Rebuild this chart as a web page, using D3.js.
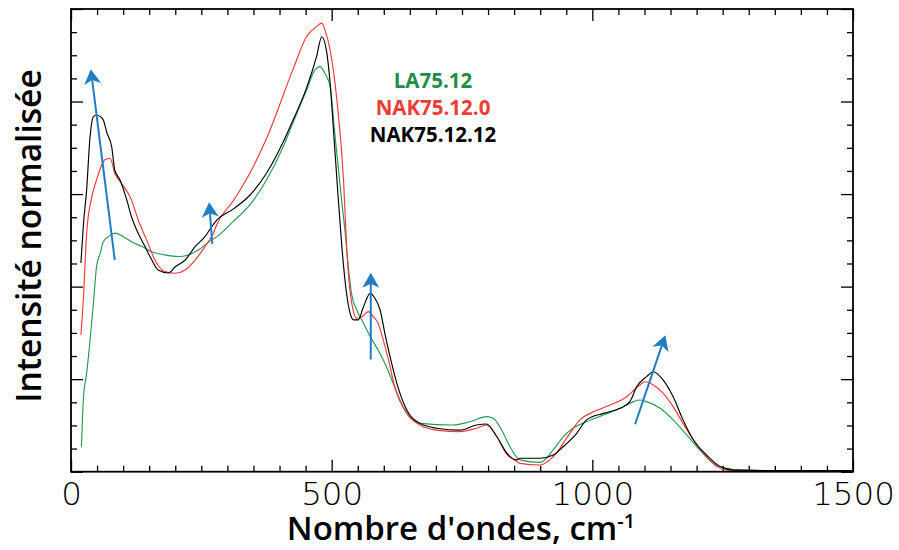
<!DOCTYPE html>
<html>
<head>
<meta charset="utf-8">
<script src="https://cdn.jsdelivr.net/npm/d3@7"></script>
<style>
  html, body { margin: 0; padding: 0; background: #fff; }
  svg { display: block; }
</style>
</head>
<body>
<svg id="chart" width="899" height="550"></svg>
<script>
// ---------- DATA ----------
const seriesNames = ["LA75.12", "NAK75.12.0", "NAK75.12.12"];

// LA75.12 (green)
const la_x = [20,24,30,36,43,49,56,62,72,84,100,116,136,155,180,206,225,244,270,280,311,343,375,407,426,452,468,478,487,497,506,519,526,532,538,548,561,574,589,605,618,637,669,733,765,797,810,826,842,861,900,925,944,963,989,1021,1053,1079,1091,1104,1130,1155,1181,1206,1232,1258,1283,1350,1420,1500];
const la_y = [1.08,3.24,4.25,5.55,7.28,8.86,9.44,9.94,10.16,10.31,10.16,9.94,9.73,9.51,9.37,9.30,9.37,9.58,10.02,10.16,10.81,11.53,12.61,14.05,15.10,16.50,17.37,17.51,17.22,16.65,14.63,11.75,10.31,8.86,7.71,6.99,6.42,5.84,5.26,4.54,3.82,2.81,2.09,2.02,2.16,2.38,2.31,1.80,1.08,0.51,0.40,0.94,1.51,1.88,2.16,2.45,2.74,3.03,3.10,3.03,2.74,2.24,1.59,0.94,0.36,0.15,0.07,0.05,0.05,0.05];

// NAK75.12.0 (red)
const nak0_x = [19,24,30,40,49,59,65,75,84,97,116,129,145,161,180,200,219,238,257,273,280,311,343,375,426,452,471,481,487,497,510,523,529,533,540,548,558,570,580,589,599,609,621,644,669,701,746,778,797,817,836,855,861,900,925,957,976,1002,1034,1066,1091,1101,1117,1136,1155,1174,1194,1219,1239,1258,1350,1420,1500];
const nak0_y = [5.91,7.57,10.31,11.89,12.61,13.26,13.48,13.55,12.90,12.47,11.75,10.88,10.02,9.15,8.65,8.58,8.72,9.15,9.73,10.31,10.70,11.70,12.90,14.40,17.40,18.81,19.24,19.39,19.10,18.23,16.07,12.50,9.60,8.30,7.10,6.63,6.70,6.92,6.70,6.42,5.69,4.83,3.67,2.52,2.02,1.80,1.73,1.88,2.02,1.50,0.75,0.45,0.36,0.29,0.65,1.66,2.24,2.59,2.88,3.24,3.75,3.89,3.75,3.39,2.81,2.09,1.37,0.65,0.22,0.07,0.05,0.05,0.05];

// NAK75.12.12 (black)
const nak12_x = [19,24,30,36,43,49,56,62,69,78,84,94,107,116,126,142,155,167,187,200,219,238,257,270,280,311,343,375,407,426,452,471,481,490,497,504,512,520,528,536,542,551,561,574,583,593,602,612,625,644,669,701,746,778,797,817,836,855,861,900,925,944,970,989,1021,1053,1072,1085,1104,1117,1136,1155,1174,1194,1219,1245,1270,1350,1420,1500];
const nak12_y = [9.02,10.74,12.18,14.33,15.35,15.42,15.35,15.20,14.64,14.05,13.04,12.61,11.75,11.02,10.45,9.73,9.15,8.72,8.59,8.86,9.15,9.73,10.16,10.59,10.88,11.35,11.95,12.90,14.25,15.20,16.60,17.94,18.80,18.20,16.80,14.60,12.00,9.60,7.80,6.80,6.56,6.56,7.13,7.71,7.50,6.99,5.98,4.97,3.82,2.67,2.09,1.88,1.80,2.02,2.06,1.51,0.80,0.51,0.58,0.58,0.72,1.08,1.66,2.24,2.52,2.74,3.03,3.67,4.11,4.32,3.96,3.24,2.24,1.37,0.72,0.22,0.07,0.05,0.05,0.05];

// Annotation arrows (data units): [x0, y0, x1 (tip), y1 (tip)]
const arrows = [
  [84, 9.15, 38, 17.4],
  [271, 9.85, 265, 11.65],
  [575, 4.85, 575, 8.6],
  [1082, 2.05, 1140, 5.9]
];

const xMajorTicks = [0, 500, 1000, 1500];
const xTickLabels = ["0", "500", "1000", "1500"];
const xTitle = "Nombre d'ondes, cm";
const xTitleSup = "-1";
const yTitle = "Intensité normalisée";

// ---------- CHART ----------
const colors = { "LA75.12": "#239a4f", "NAK75.12.0": "#f0383a", "NAK75.12.12": "#000000" };
const legendColors = { "LA75.12": "#1f8d48", "NAK75.12.0": "#ef3b36", "NAK75.12.12": "#000000" };

const svg = d3.select("#chart");
const L = 71, R = 853, T = 9, B = 471.7;
const x = d3.scaleLinear().domain([0, 1500]).range([L, R]);
const y = d3.scaleLinear().domain([0, 20]).range([B, T]);

const xMinor = d3.range(0, 1501, 50).filter(v => v % 500 !== 0);
const yMinor = d3.range(0, 21, 1).filter(v => v % 4 !== 0);
const yMajor = d3.range(0, 21, 4);

function styleAxis(g) {
  g.select(".domain").remove();
  g.selectAll(".tick line").attr("stroke", "#000").attr("stroke-width", 1.3);
}

// bottom
svg.append("g").attr("transform", `translate(0,${B})`)
  .call(d3.axisBottom(x).tickValues(xMinor).tickSize(-6).tickFormat(""))
  .call(styleAxis);
const bottomMajor = svg.append("g").attr("transform", `translate(0,${B})`)
  .call(d3.axisBottom(x).tickValues(xMajorTicks).tickSize(-12).tickPadding(10)
    .tickFormat((d, i) => xTickLabels[i]))
  .call(styleAxis);
bottomMajor.selectAll("text")
  .attr("font-family", "'DejaVu Sans', sans-serif")
  .attr("font-weight", 200)
  .attr("font-size", 32.5)
  .attr("fill", "#000");

// top
svg.append("g").attr("transform", `translate(0,${T})`)
  .call(d3.axisTop(x).tickValues(xMinor).tickSize(-6).tickFormat(""))
  .call(styleAxis);
svg.append("g").attr("transform", `translate(0,${T})`)
  .call(d3.axisTop(x).tickValues(xMajorTicks).tickSize(-12).tickFormat(""))
  .call(styleAxis);

// left
svg.append("g").attr("transform", `translate(${L},0)`)
  .call(d3.axisLeft(y).tickValues(yMinor).tickSize(-6).tickFormat(""))
  .call(styleAxis);
svg.append("g").attr("transform", `translate(${L},0)`)
  .call(d3.axisLeft(y).tickValues(yMajor).tickSize(-12).tickFormat(""))
  .call(styleAxis);

// right
svg.append("g").attr("transform", `translate(${R},0)`)
  .call(d3.axisRight(y).tickValues(yMinor).tickSize(-6).tickFormat(""))
  .call(styleAxis);
svg.append("g").attr("transform", `translate(${R},0)`)
  .call(d3.axisRight(y).tickValues(yMajor).tickSize(-12).tickFormat(""))
  .call(styleAxis);

// frame
svg.append("rect")
  .attr("x", L).attr("y", T).attr("width", R - L).attr("height", B - T)
  .attr("fill", "none").attr("stroke", "#000").attr("stroke-width", 1.8);

// series
const series = [
  { name: "LA75.12", xs: la_x, ys: la_y },
  { name: "NAK75.12.0", xs: nak0_x, ys: nak0_y },
  { name: "NAK75.12.12", xs: nak12_x, ys: nak12_y }
];
const line = d3.line().x(d => x(d[0])).y(d => y(d[1])).curve(d3.curveMonotoneX);
series.forEach(s => {
  const pts = s.xs.map((v, i) => [v, s.ys[i]]);
  svg.append("path")
    .datum(pts)
    .attr("d", line)
    .attr("fill", "none")
    .attr("stroke", colors[s.name])
    .attr("stroke-width", 1.15)
    .attr("stroke-linejoin", "round");
});

// arrows
const blue = "#1f7cc3";
arrows.forEach(a => {
  const x0 = x(a[0]), y0 = y(a[1]), x1 = x(a[2]), y1 = y(a[3]);
  const ang = Math.atan2(y1 - y0, x1 - x0);
  const headLen = 15, headHalf = 8.5, notch = 11;
  const bx = x1 - Math.cos(ang) * notch, by = y1 - Math.sin(ang) * notch;
  svg.append("line")
    .attr("x1", x0).attr("y1", y0).attr("x2", bx).attr("y2", by)
    .attr("stroke", blue).attr("stroke-width", 2);
  const px = -Math.sin(ang), py = Math.cos(ang);
  const hx = x1 - Math.cos(ang) * headLen, hy = y1 - Math.sin(ang) * headLen;
  const p = [
    [x1, y1],
    [hx + px * headHalf, hy + py * headHalf],
    [bx, by],
    [hx - px * headHalf, hy - py * headHalf]
  ];
  svg.append("path")
    .attr("d", "M" + p.map(q => q.join(",")).join("L") + "Z")
    .attr("fill", blue);
});

// legend
const legendBaselines = [88, 115, 142];
seriesNames.forEach((n, i) => {
  svg.append("text")
    .attr("x", 433).attr("y", legendBaselines[i])
    .attr("text-anchor", "middle")
    .attr("font-family", "'Open Sans', sans-serif")
    .attr("font-weight", 700)
    .attr("font-size", 20.5)
    .attr("fill", legendColors[n])
    .text(n);
});

// axis titles
const xt = svg.append("text")
  .attr("x", 461).attr("y", 540)
  .attr("text-anchor", "middle")
  .attr("font-family", "'Open Sans', sans-serif")
  .attr("font-weight", 600)
  .attr("font-size", 33)
  .attr("fill", "#000");
xt.append("tspan").text(xTitle);
xt.append("tspan").attr("dy", -12).attr("font-size", 20).text(xTitleSup);

svg.append("text")
  .attr("transform", "translate(41,236) rotate(-90)")
  .attr("text-anchor", "middle")
  .attr("font-family", "'Open Sans', sans-serif")
  .attr("font-weight", 600)
  .attr("font-size", 33.5)
  .attr("fill", "#000")
  .text(yTitle);
</script>
</body>
</html>
